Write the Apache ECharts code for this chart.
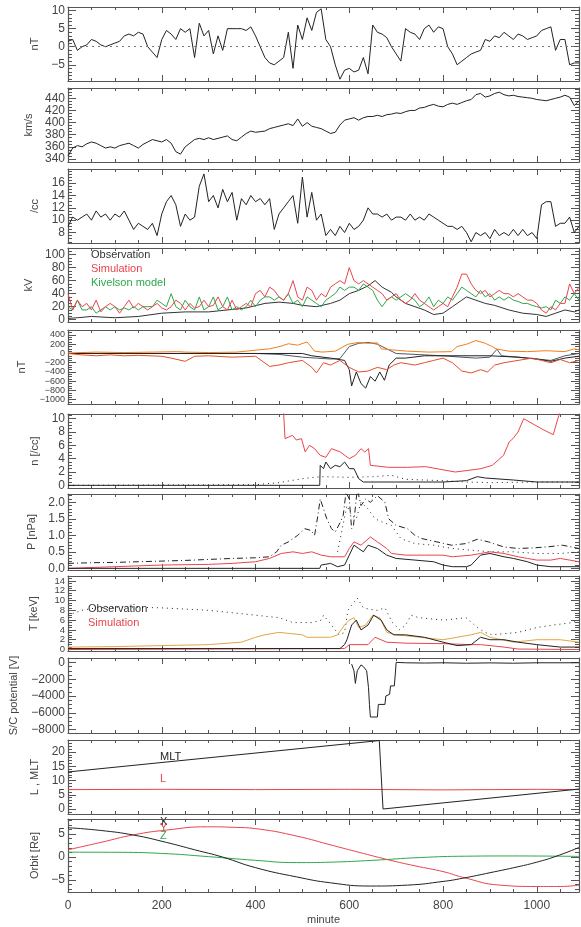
<!DOCTYPE html>
<html>
<head>
<meta charset="utf-8">
<script src="https://cdn.jsdelivr.net/npm/echarts@6/dist/echarts.min.js"></script>
<style>
html,body{margin:0;padding:0;background:#fff}
#chart{width:581px;height:927px}
</style>
</head>
<body>
<div id="chart"></div>
<script>
// ---- data (minutes on x) ----
var XMAX = 1090;
var xTicks = [0, 200, 400, 600, 800, 1000];

// panel 1: IMF Bz [nT], every 10 min
var bzNT = [1.5,2,-1,0,0.5,2,1.5,0.5,0,0.5,1,1.5,3,3.5,3,4,3.5,0,-1.5,-3,2,4.5,3.5,2,5,4,5,-3,6.5,3,4.5,-2,3,-1,5,5,5,5,4.5,5.5,3,0,-3,-4.5,-5,-4,-3,4,-6,6,2,8,4.5,9.5,10.5,2,0,-5,-9,-6.5,-6,-7,-6.5,-3,-7.5,6,4,3.5,2.5,0,-2,-4,5,4,3.5,2,5,6,4,5.5,5,0,-2,-5,-4,-3,-2,-1.5,-1,2,1.5,3,2.5,4,3,2,3.5,3,2,2.5,3,4.5,5,5.5,-1,2,2,-5,-4.5,-4.5];
// panel 2: solar wind speed [km/s], every 10 min
var vswKms = [345,358,362,360,365,368,366,362,358,360,358,362,364,366,362,358,364,368,372,370,368,372,366,352,348,360,366,372,374,372,375,372,374,376,378,372,370,376,382,386,384,385,386,390,392,394,396,398,395,406,394,400,394,392,390,386,382,384,396,404,406,408,404,408,410,410,412,410,413,414,416,415,418,420,420,424,425,428,430,427,426,430,432,430,433,436,438,446,448,442,444,448,450,446,444,445,443,442,441,440,438,437,436,438,440,442,445,442,428,436];
// panel 3: solar wind density [/cc], every 10 min
var npCc = [9,10.5,10,10.5,11,10,11.5,10.5,11,10,11,10.5,11.5,10,8.5,9.5,9,8.5,9.5,7.5,11,13,14,12.5,9,11,10,10.5,15.5,17.5,13,14,12,15,13,14.5,10,13.5,12.5,14,13,13.5,12.5,13.5,8.5,11,12,13,14,9.5,17,10.5,14.5,10,11,7.5,8.5,7.5,9,8,9.5,8.5,9,10,12,11,11,10.5,11,10,10.5,10.5,10,11,10,10.5,10,11,10.5,10,9.5,9,9,8.5,9,8,6.5,8,7.5,8,7,8.5,7.5,8,7.5,8.5,7.5,8.5,7.5,8,7,12.5,13,13,9,9.5,9.5,10.5,8,9];
// panel 4: polar cap potential [kV]
var pcpObs = [[0,2],[20,3],[50,5],[100,3],[150,5],[200,10],[250,12],[300,12],[340,15],[380,18],[420,25],[450,27],[480,25],[500,22],[530,20],[560,25],[580,30],[600,40],[620,45],[640,52],[655,60],[670,50],[690,42],[700,35],[720,25],[740,20],[760,15],[780,8],[800,10],[820,20],[840,30],[850,35],[870,30],[890,25],[910,22],[940,15],[970,10],[1000,8],[1020,5],[1040,10],[1060,15],[1080,12],[1090,15]];
var pcpSim = [40,15,30,20,25,15,30,12,20,25,20,10,20,30,18,25,20,15,20,25,18,15,20,30,25,15,25,18,20,30,20,22,35,20,15,30,15,20,25,20,40,45,35,50,45,35,30,40,60,35,30,50,45,30,40,35,50,55,60,55,80,60,55,60,55,50,45,40,30,35,40,30,25,30,40,30,25,20,15,20,25,20,35,50,70,70,55,45,40,45,35,40,45,40,40,35,40,35,30,30,25,15,10,20,15,25,25,55,40,50];
var pcpKiv = [20,15,30,15,15,20,10,15,20,15,20,15,18,15,20,15,20,20,20,30,25,20,40,20,15,30,20,15,35,15,20,35,15,20,35,15,20,15,20,30,20,30,35,35,30,35,30,40,25,30,20,35,30,25,20,30,35,40,50,45,50,50,45,55,50,45,30,20,30,35,30,35,40,35,30,20,25,35,20,30,25,35,30,40,50,45,40,35,45,35,40,30,35,30,35,30,28,25,25,22,20,18,20,15,30,25,35,30,40,30];
// panel 5: magnetic field [nT]
var bPos = [[0,10],[60,30],[120,20],[180,30],[234,40],[250,30],[300,20],[360,30],[408,80],[430,100],[455,160],[470,210],[490,180],[510,250],[526,50],[542,30],[570,50],[597,200],[620,240],[640,220],[660,230],[668,100],[700,70],[724,50],[770,30],[818,40],[830,150],[850,200],[870,280],[890,220],[905,150],[913,100],[940,50],[980,40],[1020,60],[1060,40],[1080,100],[1090,80]];
var bMid = [[0,0],[400,0],[450,-20],[500,-80],[530,-100],[560,-120],[580,-110],[600,150],[620,220],[640,240],[660,200],[680,100],[700,0],[760,-30],[800,-50],[840,-80],[870,-100],[900,-80],[915,90],[925,-50],[960,-80],[1000,-120],[1030,-150],[1060,-50],[1090,0]];
var bObs = [[0,0],[500,0],[520,-50],[560,-100],[590,-150],[600,-350],[605,-700],[615,-400],[625,-650],[635,-750],[645,-500],[655,-600],[665,-400],[675,-580],[685,-250],[700,-100],[720,-100],[760,-50],[900,-50],[960,-80],[1000,-120],[1030,-170],[1060,-100],[1090,-60]];
var bNeg = [[0,0],[30,-30],[60,-50],[90,-30],[120,-50],[150,-40],[200,-60],[220,-100],[250,-170],[270,-60],[300,-50],[350,-80],[400,-60],[430,-280],[450,-250],[470,-200],[500,-150],[520,-300],[530,-420],[545,-200],[560,-250],[580,-150],[600,-300],[620,-400],[640,-380],[660,-300],[680,-350],[695,-250],[710,-200],[740,-250],[760,-200],[780,-150],[800,-100],[820,-200],[840,-380],[860,-420],[880,-350],[895,-400],[910,-250],[930,-200],[960,-150],[990,-100],[1010,-150],[1030,-200],[1050,-130],[1070,-200],[1090,-150]];
// panel 6: plasma density n [/cc]
var nSim = [[459,12],[463,7],[479,7.5],[487,6.8],[498,7],[506,5],[515,6],[526,5.5],[538,4.5],[550,4.2],[562,5.5],[581,5],[600,4],[613,4.5],[625,5.5],[633,5],[641,5.5],[645,3],[684,2.7],[724,2.7],[763,2.8],[802,2.3],[826,2],[849,2.2],[881,2.5],[905,3],[929,4.5],[941,6.5],[949,7],[960,8],[972,10],[992,9.2],[1015,8.3],[1035,7.6],[1047,10.5],[1052,12]];
var nObs = [[0,0],[537,0],[538,3],[545,2.5],[550,3.5],[560,2.5],[570,3],[580,2.8],[590,3.5],[600,2.5],[610,2.5],[620,1],[630,0.5],[700,0.5],[800,0.5],[850,0.7],[873,1.3],[890,1.1],[950,0.8],[1000,0.5],[1090,0.5]];
var nDot = [[0,0],[400,0.1],[450,0.4],[500,1],[540,1.3],[600,1.2],[650,1.3],[690,1.5],[720,0.9],[800,0.7],[850,0.5],[900,0.4],[1000,0.5],[1090,0.5]];
// panel 7: pressure P [nPa]
var pDashDot = [[0,0.15],[50,0.17],[100,0.18],[150,0.2],[200,0.22],[250,0.24],[300,0.27],[350,0.3],[400,0.32],[430,0.35],[445,0.5],[455,0.7],[470,0.8],[490,1.0],[505,1.2],[518,1.15],[526,1.0],[533,1.6],[538,2.1],[545,1.8],[552,1.5],[562,1.2],[570,1.1],[581,1.4],[587,1.6],[593,2.3],[600,2.1],[605,1.2],[609,1.3],[617,2.4],[625,1.9],[635,2.1],[645,2.0],[660,2.2],[676,2.0],[684,1.5],[700,1.3],[724,1.2],[740,1.0],[755,0.9],[787,0.8],[818,0.7],[849,0.75],[873,0.88],[897,0.8],[929,0.65],[960,0.6],[992,0.62],[1023,0.65],[1055,0.7],[1090,0.6]];
var pDot = [[575,0.5],[585,1.2],[595,1.9],[605,1.6],[615,1.5],[625,2.0],[640,1.8],[655,1.5],[670,1.4],[690,1.3],[710,0.9],[740,0.75],[780,0.7],[820,0.6],[860,0.55],[900,0.5],[950,0.5],[1000,0.45],[1050,0.45],[1090,0.5]];
var pSim = [[0,0],[100,0.05],[200,0.1],[300,0.12],[350,0.15],[400,0.2],[430,0.3],[455,0.45],[480,0.5],[500,0.45],[520,0.5],[540,0.4],[560,0.35],[590,0.35],[600,0.6],[610,0.8],[625,0.7],[645,0.95],[660,0.8],[680,0.6],[690,0.45],[720,0.4],[760,0.4],[800,0.4],[820,0.35],[860,0.4],[880,0.45],[900,0.5],[930,0.45],[960,0.35],[980,0.3],[1000,0.25],[1030,0.25],[1050,0.3],[1070,0.25],[1090,0.2]];
var pObs = [[0,0],[537,0],[540,0.1],[560,0.15],[575,0.05],[590,0.1],[600,0.4],[610,0.7],[620,0.6],[630,0.5],[640,0.7],[660,0.6],[680,0.4],[700,0.3],[740,0.25],[780,0.2],[800,0.1],[820,0.05],[850,0.05],[860,0.1],[880,0.4],[900,0.45],[930,0.35],[950,0.3],[980,0.2],[1000,0.1],[1030,0.05],[1090,0.05]];
// panel 8: temperature T [keV]
var tDot = [[0,7],[15,7.5],[29,8],[60,8.5],[120,8.7],[200,8.5],[260,8.2],[300,8],[350,7.5],[400,7],[450,6.5],[480,5.5],[520,5.5],[540,6],[545,7],[562,5],[578,3],[590,3.5],[597,8],[605,9],[617,10.5],[630,8.5],[645,8.2],[660,8],[676,8.5],[684,7],[692,5.5],[708,4],[720,5],[732,7],[748,6.5],[802,6],[849,6.5],[873,4.5],[889,3.5],[905,3],[960,3.5],[1000,4.5],[1036,5],[1076,5.5],[1090,6]];
var tOrange = [[0,0.5],[100,0.6],[200,0.8],[300,1],[370,1.5],[400,2.5],[420,3],[450,3.5],[480,3.2],[500,3],[510,2.5],[560,2.5],[575,3],[590,5],[600,6],[610,6.5],[620,4.5],[635,5],[650,7],[665,6.5],[680,3.5],[700,3],[750,2.5],[800,2],[830,2.5],[860,3],[880,3.5],[900,2.5],[950,1.5],[1000,2],[1050,2],[1090,1.5]];
var tObs = [[0,0.2],[538,0.2],[540,0.1],[580,0.2],[590,1],[595,2],[605,5],[615,6],[625,4],[640,5],[652,7],[668,6],[680,4],[695,3],[720,3],[760,2.5],[800,1.5],[830,0.8],[860,1],[880,2.5],[900,2],[930,2],[960,1.5],[1000,1],[1050,0.5],[1090,0.5]];
var tSim = [[0,0],[590,0.2],[600,1],[640,1],[655,2.5],[680,1.5],[720,1.3],[800,1.2],[860,1],[880,1],[930,0.5],[960,0.1],[1090,0]];
// panel 9: spacecraft potential [V]
var scPot = [[605,-200],[610,-1000],[613,-2500],[617,-1000],[621,-800],[625,-300],[630,-500],[637,-1000],[641,-3000],[643,-5000],[645,-6500],[660,-6500],[662,-5000],[676,-5000],[678,-4000],[686,-3800],[688,-2800],[696,-2800],[698,-1500],[700,0],[720,-50],[760,-80],[800,-50],[850,-100],[900,-60],[950,-100],[1000,-50],[1090,-50]];
// panel 10: L and MLT
var mlt = [[0,13],[664,24],[672,0],[1090,7]];
var lShell = [[0,6.8],[200,6.9],[400,6.8],[600,6.9],[800,6.7],[1000,6.9],[1090,6.8]];
// panel 11: orbit [Re]
var orbX = [[0,6.4],[70,5.8],[140,4.8],[210,3.2],[270,1.6],[330,0],[400,-2.3],[487,-4.3],[560,-5.6],[645,-6.3],[724,-6.1],[800,-5.3],[842,-4.6],[900,-3.4],[960,-2.1],[1000,-1.1],[1039,0.1],[1090,2.1]];
var orbY = [[0,1.6],[70,3.2],[140,4.85],[211,5.9],[297,6.6],[350,6.5],[408,6.1],[487,4.6],[566,2.5],[630,0.8],[684,-0.6],[740,-1.9],[802,-3.2],[842,-4.4],[921,-6.1],[1000,-6.4],[1050,-6.4],[1090,-6.1]];
var orbZ = [[0,1.07],[100,1.05],[200,0.8],[300,0.1],[400,-0.7],[487,-1.2],[560,-1.1],[650,-0.7],[750,-0.1],[850,0.2],[950,0.25],[1090,0.15]];

// tick labels per panel
var ticks1 = [-5, 0, 5, 10];
var ticks2 = [340, 360, 380, 400, 420, 440];
var ticks3 = [8, 10, 12, 14, 16];
var ticks4 = [0, 20, 40, 60, 80, 100];
var ticks5 = [-1000, -800, -600, -400, -200, 0, 200, 400];
var ticks6 = [0, 2, 4, 6, 8, 10];
var ticks7 = [0, 0.5, 1, 1.5, 2];
var ticks8 = [0, 2, 4, 6, 8, 10, 12, 14];
var ticks9 = [-8000, -6000, -4000, -2000, 0];
var ticks10 = [0, 5, 10, 15, 20];
var ticks11 = [-5, 0, 5];

function stepped(vals, step) {
	return vals.map(function (v, i) { return [i * step, v]; });
}

var BLACK = '#222', RED = '#e8454c', GREEN = '#2ca84c', ORANGE = '#f0801c', GOLD = '#e3a646', AXC = '#555';
var FONT = 'Liberation Sans';

// layout of the stacked panels
var panels = [
	{top: 7, h: 74, min: -9.5, max: 11, major: ticks1, minor: 1, name: 'nT', gap: 25, fs: 12},
	{top: 88, h: 74, min: 335, max: 457, major: ticks2, minor: 5, name: 'km/s', gap: 29, fs: 12},
	{top: 169, h: 74, min: 6.3, max: 18.3, major: ticks3, minor: 0.5, name: '/cc', gap: 25, fs: 12},
	{top: 248, h: 74, min: -3.5, max: 110, major: ticks4, minor: 5, name: 'kV', gap: 30, fs: 12},
	{top: 330, h: 74, min: -1093, max: 508, major: ticks5, minor: 50, name: 'nT', gap: 41, fs: 9},
	{top: 414, h: 74, min: -0.4, max: 10.7, major: ticks6, minor: 0.5, name: 'n [/cc]', gap: 25, fs: 12},
	{top: 494, h: 76, min: -0.05, max: 2.25, major: ticks7, minor: 0.1, name: 'P [nPa]', gap: 26, fs: 12, fmt: function (v) { return v.toFixed(1); }},
	{top: 576, h: 75, min: -0.3, max: 15, major: ticks8, minor: 0.5, name: 'T [keV]', gap: 29, fs: 9.5},
	{top: 658, h: 75, min: -8400, max: 520, major: ticks9, minor: 500, name: 'S/C potential [V]', gap: 49, fs: 12},
	{top: 740, h: 74, min: -1.75, max: 24.2, major: ticks10, minor: 1, name: 'L , MLT', gap: 24, fs: 12},
	{top: 819, h: 73, min: -7.6, max: 8.3, major: ticks11, minor: 1, name: 'Orbit [Re]', gap: 25, fs: 12}
];

function minorList(min, max, step) {
	var out = [];
	for (var v = Math.ceil(min / step) * step; v <= max + 1e-9; v += step) out.push(+v.toFixed(6));
	return out;
}
function minusFmt(v) {
	return String(v).replace('-', '\u2212');
}

var grids = [], xAxes = [], yAxes = [], series = [];
var xMinor = minorList(0, XMAX, 50);
panels.forEach(function (p, i) {
	grids.push({left: 68, right: 2, top: p.top, height: p.h});
	var last = i === panels.length - 1;
	var line = {show: true, onZero: false, lineStyle: {color: AXC, width: 1.2}};
	var noLine = {show: false, onZero: false};
	['bottom', 'top'].forEach(function (pos) {
		xAxes.push({gridIndex: i, type: 'value', min: 0, max: XMAX, position: pos,
			axisLine: line, splitLine: {show: false},
			axisTick: {show: true, inside: true, length: 6, customValues: xTicks, lineStyle: {color: AXC}},
			axisLabel: {show: last && pos === 'bottom', customValues: xTicks, formatter: function (v) { return String(v); },
				interval: 0, hideOverlap: false, color: '#444', fontFamily: FONT, fontSize: 12, margin: 8},
			name: last && pos === 'bottom' ? 'minute' : '', nameLocation: 'middle', nameGap: 22,
			nameTextStyle: {color: '#444', fontFamily: FONT, fontSize: 11}});
		xAxes.push({gridIndex: i, type: 'value', min: 0, max: XMAX, position: pos,
			axisLine: noLine, splitLine: {show: false}, axisLabel: {show: false},
			axisTick: {show: true, inside: true, length: 3, customValues: xMinor, lineStyle: {color: AXC}}});
	});
	var yMinor = minorList(p.min, p.max, p.minor);
	['left', 'right'].forEach(function (pos) {
		yAxes.push({gridIndex: i, type: 'value', min: p.min, max: p.max, position: pos,
			axisLine: line, splitLine: {show: false},
			axisTick: {show: true, inside: true, length: 8, customValues: p.major, lineStyle: {color: AXC}},
			axisLabel: {show: pos === 'left', customValues: p.major, formatter: p.fmt || minusFmt,
				interval: 0, hideOverlap: false, showMinLabel: true, showMaxLabel: true,
				color: '#444', fontFamily: FONT, fontSize: p.fs, lineHeight: p.fs, margin: 3},
			name: pos === 'left' ? p.name : '', nameLocation: 'middle', nameGap: p.gap, nameRotate: 90,
			nameTextStyle: {color: '#444', fontFamily: FONT, fontSize: 11}});
		yAxes.push({gridIndex: i, type: 'value', min: p.min, max: p.max, position: pos,
			axisLine: noLine, splitLine: {show: false}, axisLabel: {show: false},
			axisTick: {show: true, inside: true, length: 4, customValues: yMinor, lineStyle: {color: AXC}}});
	});
});

function addLine(panel, data, color, type, extra) {
	var s = {type: 'line', xAxisIndex: panel * 4, yAxisIndex: panel * 4, data: data,
		showSymbol: false, silent: true, clip: true,
		lineStyle: {color: color, width: 1, type: type || 'solid'}};
	if (extra) for (var k in extra) s[k] = extra[k];
	series.push(s);
}

addLine(0, stepped(bzNT, 10), BLACK, 'solid', {markLine: {silent: true, symbol: 'none', label: {show: false},
	lineStyle: {color: '#777', type: [2, 4], width: 1}, data: [{yAxis: 0}]}});
addLine(1, stepped(vswKms, 10), BLACK);
addLine(2, stepped(npCc, 10), BLACK);
addLine(3, pcpObs, '#333');
addLine(3, stepped(pcpKiv, 10), GREEN);
addLine(3, stepped(pcpSim, 10), RED);
addLine(4, bMid, '#4a5866');
addLine(4, bPos, ORANGE);
addLine(4, bObs, '#222');
addLine(4, bNeg, '#e0502a');
addLine(5, nDot, BLACK, [1, 4]);
addLine(5, nObs, BLACK);
addLine(5, nSim, RED);
addLine(6, pDashDot, BLACK, [6, 3, 1, 3]);
addLine(6, pDot, BLACK, [1, 4]);
addLine(6, pSim, RED);
addLine(6, pObs, BLACK);
addLine(7, tDot, BLACK, [1, 4]);
addLine(7, tOrange, GOLD);
addLine(7, tSim, RED);
addLine(7, tObs, BLACK);
addLine(8, scPot, BLACK);
addLine(9, lShell, RED);
addLine(9, mlt, BLACK);
addLine(10, orbZ, GREEN, 'solid', {smooth: true});
addLine(10, orbY, RED, 'solid', {smooth: true});
addLine(10, orbX, BLACK, 'solid', {smooth: true});

function label(text, x, y, color) {
	return {type: 'text', left: x, top: y, silent: true,
		style: {text: text, fill: color, font: '11px "' + FONT + '"'}};
}

var myChart = echarts.init(document.getElementById('chart'));
myChart.setOption({
	animation: false,
	backgroundColor: '#fff',
	grid: grids,
	xAxis: xAxes,
	yAxis: yAxes,
	series: series,
	graphic: [
		label('Observation', 91, 249, '#333'),
		label('Simulation', 91, 263, RED),
		label('Kivelson model', 91, 277, GREEN),
		label('Observation', 88, 603, '#333'),
		label('Simulation', 88, 617, RED),
		label('MLT', 160, 751, BLACK),
		label('L', 160, 773, RED),
		label('X', 160, 816, BLACK),
		label('Y', 160, 822, RED),
		label('Z', 160, 830, GREEN)
	]
});
</script>
</body>
</html>
